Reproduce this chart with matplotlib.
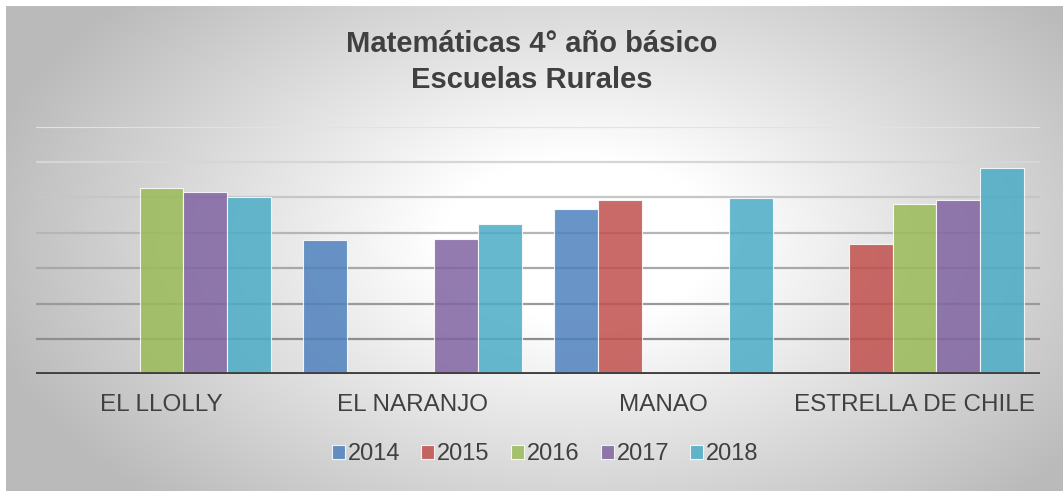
import numpy as np
import matplotlib
matplotlib.use("Agg")
import matplotlib.pyplot as plt

plt.rcParams['font.family'] = ['Liberation Sans', 'DejaVu Sans']

# data (no y axis shown; scale assumed 0-350, grid every 50)
escuelas = ["EL LLOLLY", "EL NARANJO", "MANAO", "ESTRELLA DE CHILE"]
anios = ["2014", "2015", "2016", "2017", "2018"]
v2014 = [np.nan, 190, 233, np.nan]
v2015 = [np.nan, np.nan, 246, 184]
v2016 = [263, np.nan, np.nan, 241]
v2017 = [258, 191, np.nan, 247]
v2018 = [250, 212, 249, 291]
series = [v2014, v2015, v2016, v2017, v2018]
colores = ["#4F81BD", "#C0504D", "#9BBB59", "#8064A2", "#4BACC6"]

W, H = 1063, 491
fig = plt.figure(figsize=(W / 100, H / 100), dpi=100)
fig.patch.set_facecolor("white")

# radial grey background of the chart area
bg = fig.add_axes([6 / W, 0, 1 - 6 / W, 1 - 6 / H])
bg.set_axis_off()
xx, yy = np.meshgrid(np.linspace(6, W, 400), np.linspace(6, H, 200))
r = np.sqrt(((xx - 580) / 560) ** 2 + ((yy - 240) / 330) ** 2)
g = 1 - 0.27 * np.clip((r - 0.25) / 0.85, 0, 1)
bg.imshow(np.dstack([g, g, g]), aspect="auto", extent=(0, 1, 0, 1), interpolation="bilinear")
bg.set_xlim(0, 1)
bg.set_ylim(0, 1)

ax = fig.add_axes([36 / W, 1 - 374.3 / H, (1040 - 36) / W, (374.3 - 126.7) / H])
ax.patch.set_alpha(0)

x = np.arange(len(escuelas))
ancho = 0.175
for i, (vals, c) in enumerate(zip(series, colores)):
    ax.bar(x + (i - 2) * ancho, vals, ancho, color=c, alpha=0.85,
           edgecolor="white", linewidth=0.8, label=anios[i], zorder=3)

grid_cols = ["#e2e2e2", "#d6d6d6", "#c6c6c6", "#b6b6b6", "#a8a8a8", "#9a9a9a", "#8e8e8e"]
for k, c in enumerate(grid_cols[::-1]):
    ax.axhline(50 * (k + 1), color=c, linewidth=1.6, zorder=1)
ax.axhline(0, color="#404040", linewidth=3.5, zorder=4)

ax.set_xlim(-0.5, 3.5)
ax.set_ylim(0, 350)
ax.set_yticks([])
ax.set_xticks(x)
ax.set_xticklabels(escuelas, fontsize=17.5, color="#404040")
ax.tick_params(axis="x", length=0, pad=14)
for s in ax.spines.values():
    s.set_visible(False)

fig.text(0.5, 1 - 44 / H, "Matemáticas 4° año básico", ha="center", va="center",
         fontsize=21, fontweight="bold", color="#404040")
fig.text(0.5, 1 - 80 / H, "Escuelas Rurales", ha="center", va="center",
         fontsize=21, fontweight="bold", color="#404040")

leg = fig.legend(loc="center", bbox_to_anchor=(0.513, 1 - 454 / H), ncol=5, frameon=False,
                 fontsize=17, handlelength=0.55, handleheight=0.55, handletextpad=0.12,
                 columnspacing=0.9)
for t in leg.get_texts():
    t.set_color("#404040")

fig.savefig("out.png", dpi=100)
